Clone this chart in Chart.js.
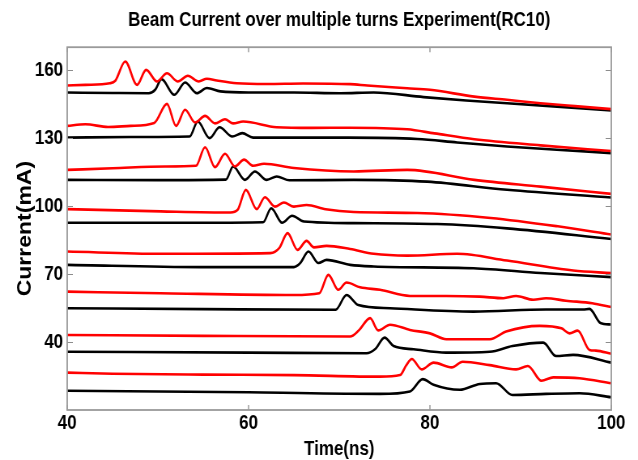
<!DOCTYPE html>
<html lang="en">
<head>
<meta charset="UTF-8">
<title>Beam Current over multiple turns Experiment(RC10)</title>
<script src="https://cdn.jsdelivr.net/npm/chart.js"></script>
<style>
  html, body { margin: 0; padding: 0; background: #fff; }
  /* the original figure is squeezed sideways, so draw wider and shrink */
  #beamChart { display: block; width: 638px !important; height: 460px !important; }
</style>
</head>
<body>
<canvas id="beamChart" width="788" height="460" style="width:638px;height:460px"></canvas>
<script>
// axis ticks
const xTicks = [40, 60, 80, 100];
const yTicks = [40, 70, 100, 130, 160];

// red traces (time in ns, current in mA), top to bottom
const r1t = [40, 42, 44.7, 45.3, 46.4, 47.7, 48.7, 49.9, 51.0, 52.2, 53.3, 54.5, 55.4, 56.5, 58.7, 62, 66, 71.2, 73.1, 77.5, 80, 84.9, 88.5, 92.2, 96, 100];
const r1v = [153.1, 153.4, 154.1, 155.2, 163.7, 153.4, 160.0, 154.9, 158.5, 154.9, 157.4, 154.9, 156.1, 155.3, 154.1, 153.8, 154.0, 153.7, 153.1, 151.9, 151.2, 148.2, 146.8, 145.3, 144.0, 142.7];
const r2t = [40, 42, 44.5, 47, 49.6, 51.0, 52.0, 53.0, 54.1, 55.2, 56.3, 57.4, 58.3, 59.4, 63.1, 67, 71.2, 77.5, 80.5, 84.9, 92.2, 100];
const r2v = [135.3, 136.0, 134.8, 135.3, 136.6, 145.0, 135.3, 142.4, 136.8, 139.7, 136.4, 138.2, 136.4, 137.2, 134.7, 134.4, 134.5, 133.8, 132.0, 129.4, 126.7, 124.2];
const r3t = [40, 45, 50.8, 54.2, 55.2, 56.3, 57.4, 58.5, 59.5, 60.5, 61.7, 65.0, 71.6, 77.5, 84.9, 92.2, 100];
const r3v = [115.9, 116.6, 117.4, 117.7, 125.9, 117.1, 123.0, 117.4, 120.4, 117.7, 118.6, 116.7, 115.2, 115.9, 111.5, 108.5, 105.3];
const r4t = [40, 50.3, 58.0, 58.8, 59.7, 60.9, 61.8, 62.9, 63.9, 65.0, 66.4, 68.5, 71.6, 78.6, 86.7, 94.1, 100];
const r4v = [98.6, 97.6, 97.1, 98.3, 107.1, 98.6, 103.8, 99.7, 101.5, 99.7, 100.4, 98.5, 97.3, 96.9, 94.7, 91.0, 87.4];
const r5t = [40, 50.3, 62.4, 63.4, 64.3, 65.4, 66.4, 67.2, 68.6, 71.2, 73.8, 77.5, 83.0, 88.5, 95.8, 100];
const r5v = [79.9, 78.9, 79.2, 81.5, 88.0, 80.6, 84.6, 81.7, 82.4, 81.0, 78.9, 78.1, 78.9, 75.9, 71.5, 70.4];
const r6t = [40, 50.3, 65.0, 67.8, 68.8, 69.9, 70.8, 72.3, 74.5, 77.8, 81.8, 85.5, 88.1, 89.5, 91.4, 92.8, 95.0, 97.9, 100];
const r6v = [62.2, 61.5, 60.7, 61.5, 69.6, 63.0, 66.2, 64.1, 63.0, 60.3, 60.3, 60.0, 59.3, 60.3, 58.6, 59.3, 58.2, 57.1, 55.4];
const r7t = [40, 55, 71.2, 72.2, 73.4, 74.3, 75.6, 77.8, 80.0, 81.8, 86.6, 88.4, 92.1, 94.5, 95.4, 96.3, 97.6, 98.3, 100];
const r7v = [43.1, 42.7, 42.4, 45.3, 50.5, 45.1, 47.6, 45.3, 43.8, 41.2, 41.2, 44.6, 47.1, 46.0, 43.8, 45.0, 36.5, 36.2, 34.8];
const r8t = [40, 45, 55, 65, 74.5, 76.7, 77.4, 78.0, 79.1, 80.4, 82.4, 83.6, 86.6, 89.5, 90.8, 92.3, 93.6, 96.5, 100];
const r8v = [26.5, 26.0, 25.6, 25.4, 24.7, 25.4, 29.8, 32.5, 27.9, 30.9, 28.8, 31.3, 29.8, 27.9, 29.4, 22.9, 24.4, 24.0, 21.8];

// black traces
const b1t = [40, 45, 49.0, 49.7, 50.4, 51.8, 53.0, 54.3, 55.4, 56.9, 60, 65, 70.1, 73.8, 79.3, 84, 88.5, 94, 100];
const b1v = [150.0, 149.8, 149.7, 151.2, 155.9, 149.0, 154.4, 149.7, 152.0, 150.5, 150.0, 150.0, 149.7, 150.0, 148.0, 146.5, 145.3, 143.8, 142.1];
const b2t = [40, 47, 53.5, 54.4, 55.7, 56.8, 58.2, 59.3, 60.5, 65, 71, 78.6, 83, 88.5, 94, 100];
const b2v = [130.1, 130.4, 130.6, 137.2, 129.9, 134.7, 130.6, 132.1, 130.1, 130.1, 130.1, 129.5, 128.0, 126.2, 124.8, 123.3];
const b3t = [40, 50, 57.5, 58.3, 59.6, 60.7, 62.0, 63.1, 64.5, 71.6, 79.7, 88.5, 100];
const b3v = [111.5, 111.4, 111.6, 117.4, 111.5, 115.2, 111.5, 113.0, 111.3, 111.5, 110.7, 107.1, 103.7];
const b4t = [40, 55, 61.6, 62.5, 63.7, 64.8, 66.1, 71.6, 80.8, 88.5, 100];
const b4v = [92.6, 92.6, 92.8, 99.0, 92.6, 95.7, 93.1, 92.4, 92.0, 90.1, 85.4];
const b5t = [40, 54.7, 65.0, 65.7, 66.6, 67.7, 68.6, 71.2, 73.8, 84.8, 92.2, 100];
const b5v = [74.0, 73.0, 73.0, 74.8, 79.9, 74.8, 76.2, 74.0, 73.3, 72.5, 70.4, 68.6];
const b6t = [40, 55, 69.6, 70.8, 72.1, 75.6, 84.8, 92.8, 96.9, 97.6, 98.8, 100];
const b6v = [54.9, 54.5, 54.2, 60.7, 56.3, 54.9, 53.4, 54.3, 54.3, 54.6, 48.4, 47.7];
const b7t = [40, 60, 73.0, 74.0, 75.0, 76.0, 78.2, 81.8, 86.6, 89.1, 92.5, 93.9, 95.8, 100];
const b7v = [35.7, 35.3, 35.0, 37.0, 41.9, 38.2, 36.8, 35.3, 35.7, 38.2, 39.7, 33.8, 34.3, 30.9];
const b8t = [40, 60, 74.5, 77.8, 79.2, 80.4, 83.3, 85.5, 87.3, 89.1, 92.8, 96.5, 100];
const b8v = [18.5, 17.8, 17.1, 18.2, 23.6, 21.1, 18.9, 21.5, 21.8, 16.6, 17.1, 17.4, 15.6];

const redRuns = [[r1t, r1v], [r2t, r2v], [r3t, r3v], [r4t, r4v], [r5t, r5v], [r6t, r6v], [r7t, r7v], [r8t, r8v]];
const blackRuns = [[b1t, b1v], [b2t, b2v], [b3t, b3v], [b4t, b4v], [b5t, b5v], [b6t, b6v], [b7t, b7v], [b8t, b8v]];

const sans = "'Liberation Sans', Arial, Helvetica, sans-serif";
const tickFont = { family: sans, size: 21, weight: 'bold' };

const makeSet = (run, color) => ({
    data: run[0].map((t, i) => ({ x: t, y: run[1][i] })),
    borderColor: color,
    borderWidth: 2.6,
    pointRadius: 0,
    fill: false,
    cubicInterpolationMode: 'monotone'
});

// red first so it ends up drawn on top
const datasets = redRuns.map(r => makeSet(r, '#ff0000')).concat(blackRuns.map(r => makeSet(r, '#000000')));

// matlab style frame with inward ticks
const frameTicks = {
    id: 'frameTicks',
    afterDatasetsDraw(chart) {
        const { ctx, chartArea: a, scales: { x, y } } = chart;
        ctx.save();
        ctx.strokeStyle = '#8c8c8c';
        ctx.lineWidth = 1;
        ctx.beginPath();
        yTicks.forEach(v => {
            const py = Math.round(y.getPixelForValue(v)) + 0.5;
            ctx.moveTo(a.left, py); ctx.lineTo(a.left + 7, py);
            ctx.moveTo(a.right, py); ctx.lineTo(a.right - 7, py);
        });
        ctx.stroke();
        ctx.lineWidth = 1.3;
        ctx.beginPath();
        xTicks.forEach(v => {
            const px = x.getPixelForValue(v);
            ctx.moveTo(px, a.bottom); ctx.lineTo(px, a.bottom - 5);
            ctx.moveTo(px, a.top); ctx.lineTo(px, a.top + 5);
        });
        ctx.stroke();
        ctx.lineWidth = 1.8;
        ctx.strokeStyle = '#9a9a9a';
        ctx.strokeRect(a.left, a.top, a.right - a.left, a.bottom - a.top);
        ctx.restore();
    }
};

new Chart(document.getElementById('beamChart'), {
    type: 'line',
    data: { datasets },
    plugins: [frameTicks],
    options: {
        responsive: false,
        animation: false,
        devicePixelRatio: 1,
        layout: { padding: { left: 0, right: 33, top: 0, bottom: 0 } },
        plugins: {
            legend: { display: false },
            tooltip: { enabled: false },
            title: {
                display: true,
                fullSize: false, // center over the plot box, not the canvas
                text: 'Beam Current over multiple turns Experiment(RC10)',
                color: '#000',
                font: { family: sans, size: 21, weight: 'bold' },
                padding: { top: 8, bottom: 14 }
            }
        },
        scales: {
            x: {
                type: 'linear',
                min: 40,
                max: 100,
                afterBuildTicks: s => { s.ticks = xTicks.map(v => ({ value: v })); },
                afterFit: s => { s.height = 50; },
                grid: { display: false, drawTicks: false },
                border: { display: false },
                ticks: { color: '#000', font: tickFont, padding: 1, maxRotation: 0, autoSkip: false },
                title: { display: true, text: 'Time(ns)', color: '#000', font: { family: sans, size: 21, weight: 'bold', lineHeight: 1 }, padding: 0 }
            },
            y: {
                type: 'linear',
                min: 10,
                max: 170,
                afterBuildTicks: s => { s.ticks = yTicks.map(v => ({ value: v })); },
                afterFit: s => { s.width = 83; },
                grid: { display: false, drawTicks: false },
                border: { display: false },
                ticks: { color: '#000', font: tickFont, padding: 5, autoSkip: false },
                title: {
                    display: true,
                    text: 'Current(mA)',
                    color: '#000',
                    font: { family: sans, size: 23, weight: 'bold' },
                    padding: { top: 18, bottom: 0 }
                }
            }
        }
    }
});
</script>
</body>
</html>
